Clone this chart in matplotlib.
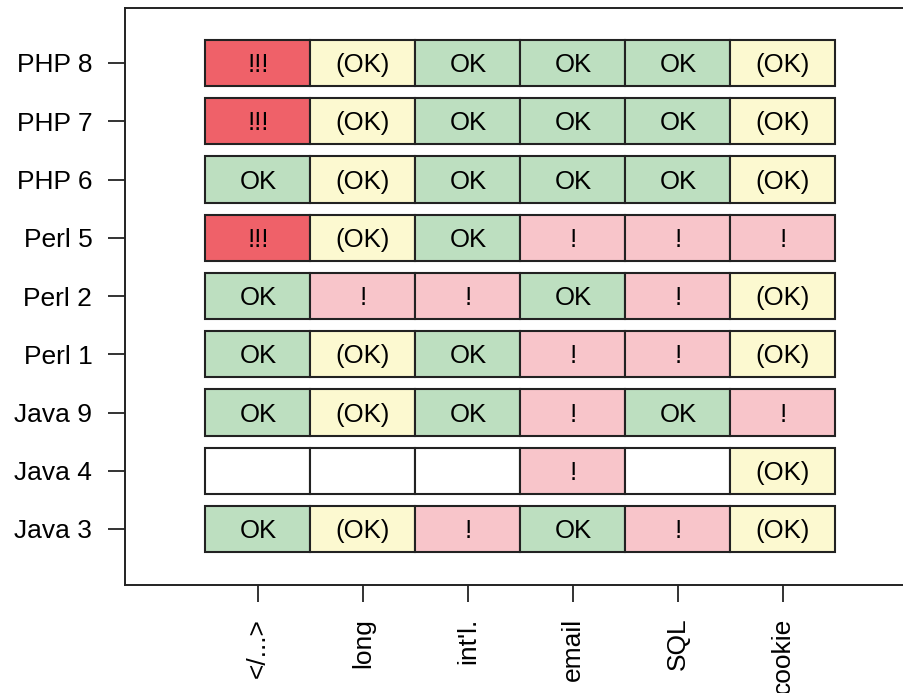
import matplotlib
matplotlib.use("Agg")
import matplotlib.pyplot as plt
from matplotlib.patches import Rectangle

rows = ["Java 3", "Java 4", "Java 9", "Perl 1", "Perl 2", "Perl 5", "PHP 6", "PHP 7", "PHP 8"]
cols = ["</...>", "long", "int'l.", "email", "SQL", "cookie"]

java3 = ["OK", "(OK)", "!", "OK", "!", "(OK)"]
java4 = ["", "", "", "!", "", "(OK)"]
java9 = ["OK", "(OK)", "OK", "!", "OK", "!"]
perl1 = ["OK", "(OK)", "OK", "!", "!", "(OK)"]
perl2 = ["OK", "!", "!", "OK", "!", "(OK)"]
perl5 = ["!!!", "(OK)", "OK", "!", "!", "!"]
php6 = ["OK", "(OK)", "OK", "OK", "OK", "(OK)"]
php7 = ["!!!", "(OK)", "OK", "OK", "OK", "(OK)"]
php8 = ["!!!", "(OK)", "OK", "OK", "OK", "(OK)"]
grid = [java3, java4, java9, perl1, perl2, perl5, php6, php7, php8]

colors = {"!!!": "#ef6169", "(OK)": "#fcf9d0", "OK": "#bddfc0", "!": "#f8c5ca", "": "#ffffff"}

plt.rcParams['font.family'] = ['Liberation Sans', 'DejaVu Sans']

fig = plt.figure(figsize=(9.04, 6.93), dpi=100)
W, H = 904, 693
left, right, bottom, top = 125, 904, 585, 8
ax = fig.add_axes([left / W, (H - bottom) / H, (right - left) / W, (bottom - top) / H])

cw, ch = 1.0, 0.79
for i, rowvals in enumerate(grid):
    y = i + 1
    for j, val in enumerate(rowvals):
        x = j + 1
        ax.add_patch(Rectangle((x - cw / 2, y - ch / 2), cw, ch,
                               facecolor=colors[val], edgecolor="#222222", linewidth=1.5))
        if val:
            ax.text(x, y - 0.155, val, ha="center", va="baseline", fontsize=18.5, color="black")

x_px0, x_sp = 258, 105
y_px0, y_sp = 529, 58.25
ax.set_xlim(1 - (x_px0 - left) / x_sp, 1 + (right - x_px0) / x_sp)
ax.set_ylim(1 - (bottom - y_px0) / y_sp, 1 + (y_px0 - top) / y_sp)

ax.set_xticks(range(1, len(cols) + 1))
ax.set_xticklabels(cols, rotation=90, fontsize=19)
ax.set_yticks(range(1, len(rows) + 1))
ax.set_yticklabels(rows, fontsize=19)
ax.tick_params(axis="both", length=12.5, width=1.4, color="#333333", pad=11)
for s in ["left", "bottom", "top"]:
    ax.spines[s].set_linewidth(1.4)
    ax.spines[s].set_color("#222222")
ax.spines["right"].set_visible(False)

fig.savefig("out.png", dpi=100)
